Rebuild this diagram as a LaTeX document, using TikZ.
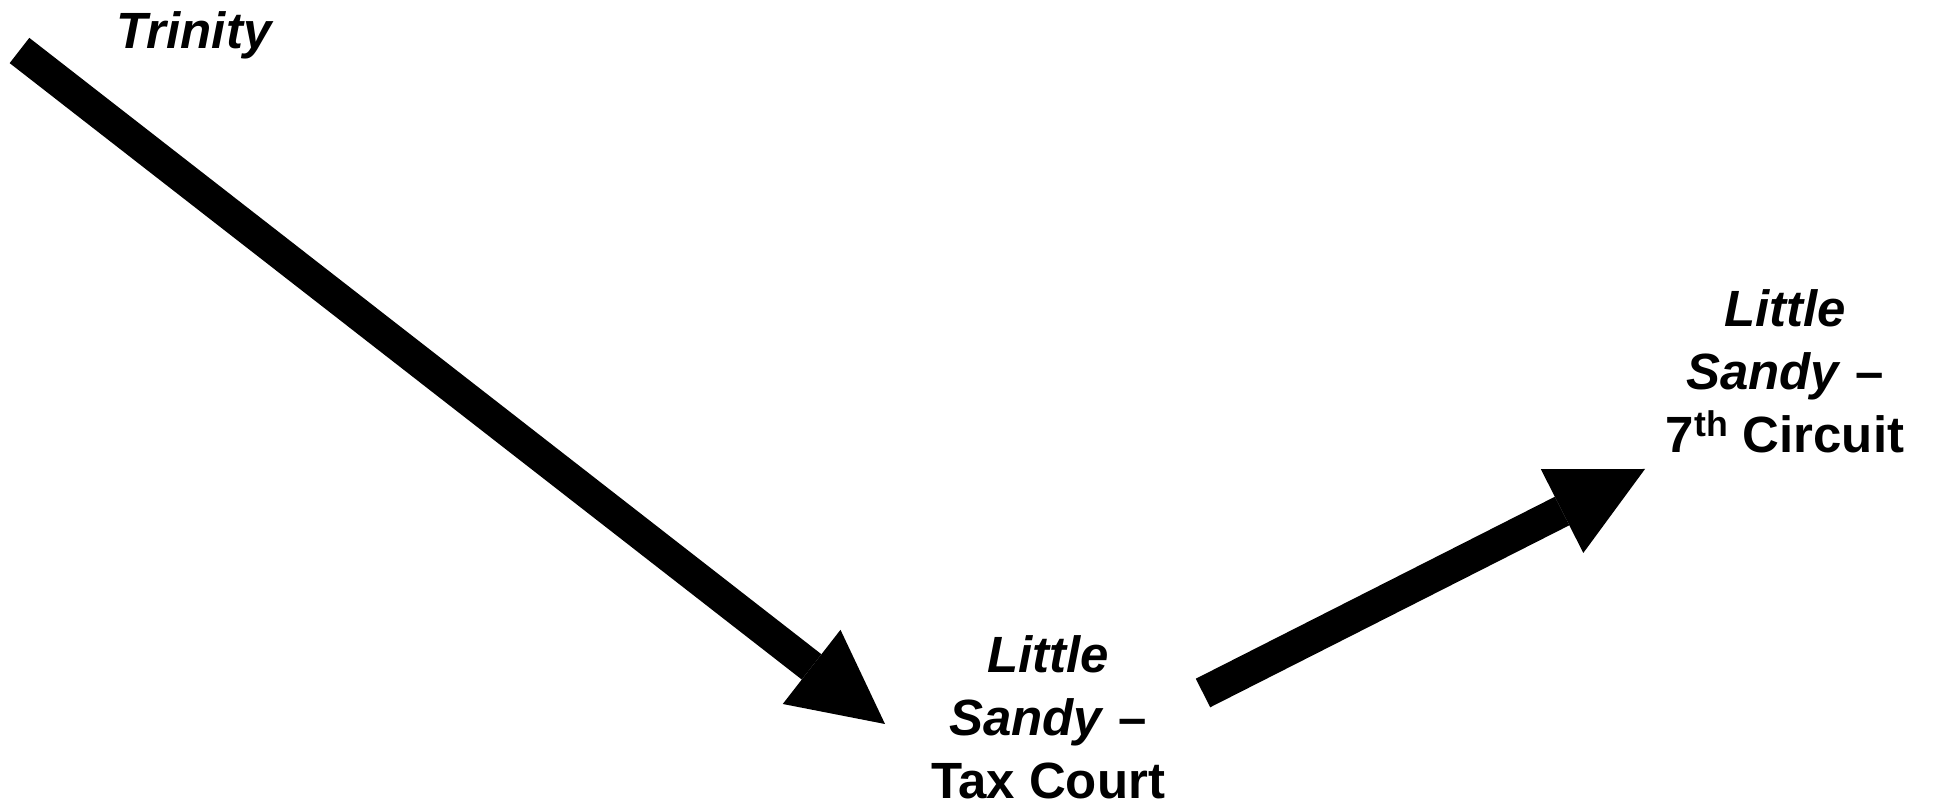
\documentclass[tikz,border=0pt]{standalone}
\usepackage{fontspec}
\setmainfont{Liberation Sans}
\usetikzlibrary{arrows.meta}
\usetikzlibrary{positioning}
\tikzset{
        case label/.style={
          font=\bfseries\fontsize{29}{35.8}\selectfont,
          align=center,
          inner sep=0pt
          },
        appeal arrow/.style={
          line width=0.64cm,
          -{Triangle[length=1.86cm, width=1.88cm, line width=0pt]}
          },
}

\begin{document}
\begin{tikzpicture}[x=0.02cm, y=-0.02cm]
      \useasboundingbox (0,0) rectangle (1935,810);
      % CASES
      \node[case label, anchor=base] (trinity) at (195,49) {\textit{Trinity}};
      \node[case label, anchor=north] (taxcourt) at (1048,635.5) {\textit{Little}\\\textit{Sandy} –\\Tax Court};
      \node[case label, anchor=north] (seventh) at (1785,289) {\textit{Little}\\\textit{Sandy} –\\7\textsuperscript{th} Circuit};

      % ARROWS
      \coordinate (trinitytail) at (19.5,50.5);
      \coordinate (taxtip) at (885,724);
      \coordinate (taxtail) at (1203,693);
      \coordinate (seventhtip) at (1645,469);
      \draw[appeal arrow] (trinitytail) -- (taxtip);
      \draw[appeal arrow] (taxtail) -- (seventhtip);
\end{tikzpicture}
\end{document}
